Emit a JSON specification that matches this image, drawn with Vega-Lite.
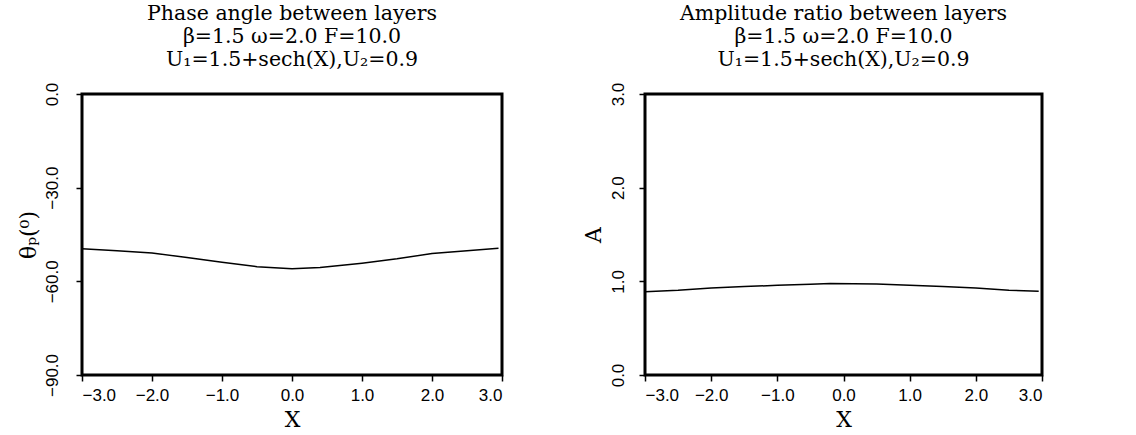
{
  "$schema": "https://vega.github.io/schema/vega-lite/v6.json",
  "background": "white",
  "padding": {"left": 15, "top": 2, "right": 5, "bottom": 0},
  "config": {
    "view": {"stroke": "black", "strokeWidth": 3},
    "axis": {"grid": false, "domain": false, "tickColor": "black", "tickSize": 6, "tickWidth": 1.5,
      "labelColor": "black", "labelFont": "Liberation Sans", "labelFontSize": 17,
      "titleFont": "DejaVu Serif", "titleFontSize": 22, "titleFontWeight": "normal", "titleColor": "black"},
    "title": {"font": "DejaVu Serif", "fontSize": 20.5, "fontWeight": "normal", "color": "black", "lineHeight": 23, "offset": 12},
    "concat": {"spacing": 75}
  },
  "datasets": {
    "phase": [
      {"X": -3.0, "theta": -49.6}, {"X": -2.5, "theta": -50.2}, {"X": -2.0, "theta": -50.9},
      {"X": -1.5, "theta": -52.4}, {"X": -1.0, "theta": -53.9}, {"X": -0.5, "theta": -55.3},
      {"X": 0.0, "theta": -56.0}, {"X": 0.4, "theta": -55.6}, {"X": 1.0, "theta": -54.2},
      {"X": 1.5, "theta": -52.8}, {"X": 2.0, "theta": -51.1}, {"X": 2.5, "theta": -50.2},
      {"X": 2.95, "theta": -49.4}
    ],
    "amp": [
      {"X": -3.0, "A": 0.89}, {"X": -2.5, "A": 0.905}, {"X": -2.0, "A": 0.93},
      {"X": -1.5, "A": 0.945}, {"X": -1.0, "A": 0.957}, {"X": -0.5, "A": 0.97},
      {"X": -0.2, "A": 0.978}, {"X": 0.5, "A": 0.972}, {"X": 1.0, "A": 0.957},
      {"X": 1.5, "A": 0.945}, {"X": 2.0, "A": 0.93}, {"X": 2.5, "A": 0.905},
      {"X": 2.95, "A": 0.895}
    ]
  },
  "hconcat": [
    {
      "width": 420, "height": 281,
      "title": {"text": ["Phase angle between layers", "β=1.5 ω=2.0 F=10.0", "U₁=1.5+sech(X),U₂=0.9"], "anchor": "middle"},
      "data": {"name": "phase"},
      "mark": {"type": "line", "color": "black", "strokeWidth": 1.5},
      "encoding": {
        "x": {"field": "X", "type": "quantitative", "scale": {"domain": [-3, 3], "nice": false},
          "axis": {"values": [-3, -2, -1, 0, 1, 2, 3], "format": ".1f", "title": "X", "labelPadding": 6, "titlePadding": 6}},
        "y": {"field": "theta", "type": "quantitative", "scale": {"domain": [-90, 0], "nice": false},
          "axis": {"values": [-90, -60, -30, 0], "format": ".1f", "labelAngle": -90, "labelPadding": 15, "title": "θₚ(⁰)", "titlePadding": 3}}
      }
    },
    {
      "width": 397, "height": 281,
      "title": {"text": ["Amplitude ratio between layers", "β=1.5 ω=2.0 F=10.0", "U₁=1.5+sech(X),U₂=0.9"], "anchor": "middle"},
      "data": {"name": "amp"},
      "mark": {"type": "line", "color": "black", "strokeWidth": 1.5},
      "encoding": {
        "x": {"field": "X", "type": "quantitative", "scale": {"domain": [-3, 3], "nice": false},
          "axis": {"values": [-3, -2, -1, 0, 1, 2, 3], "format": ".1f", "title": "X", "labelPadding": 6, "titlePadding": 6}},
        "y": {"field": "A", "type": "quantitative", "scale": {"domain": [0, 3], "nice": false},
          "axis": {"values": [0, 1, 2, 3], "format": ".1f", "labelAngle": -90, "labelPadding": 12, "title": "A", "titlePadding": 4}}
      }
    }
  ]
}
